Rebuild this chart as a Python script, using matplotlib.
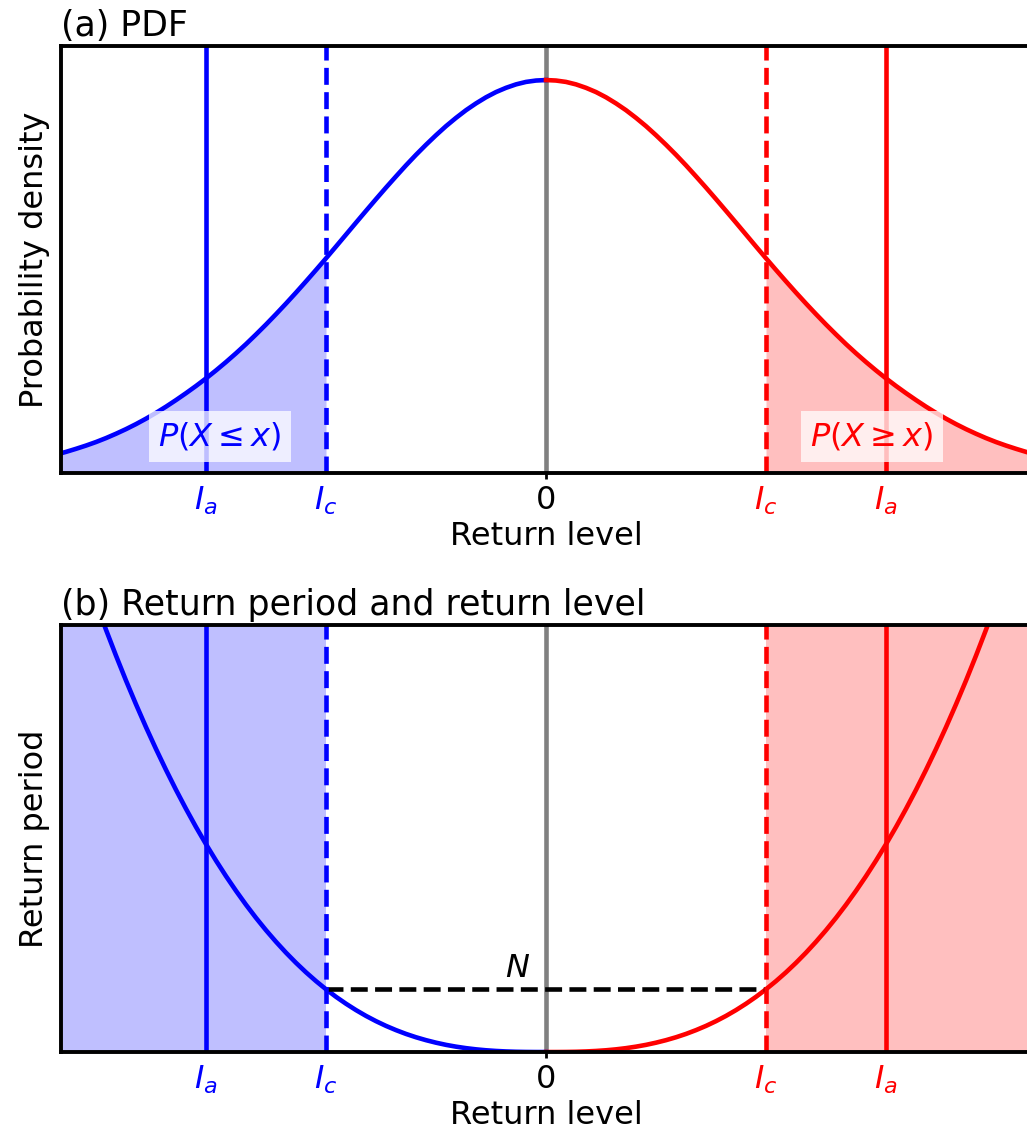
import numpy as np
import matplotlib
matplotlib.use("Agg")
import matplotlib.pyplot as plt

# half of the symmetric curves (x >= 0, step 0.05)
level = np.round(np.arange(0, 51) * 0.05, 2)
density = np.array([0.3989, 0.3984, 0.3970, 0.3945, 0.3910, 0.3867, 0.3814, 0.3752,
                    0.3683, 0.3605, 0.3521, 0.3429, 0.3332, 0.3230, 0.3123, 0.3011,
                    0.2897, 0.2780, 0.2661, 0.2541, 0.2420, 0.2299, 0.2179, 0.2061,
                    0.1945, 0.1831, 0.1720, 0.1612, 0.1507, 0.1406, 0.1308, 0.1215,
                    0.1126, 0.1041, 0.0960, 0.0883, 0.0810, 0.0740, 0.0673, 0.0610,
                    0.0551, 0.0496, 0.0445, 0.0398, 0.0354, 0.0314, 0.0278, 0.0245,
                    0.0214, 0.0186, 0.0160])
period = np.array([0.0, 0.0003, 0.002, 0.006, 0.0135, 0.025, 0.041, 0.063, 0.091,
                   0.126, 0.168, 0.219, 0.278, 0.346, 0.424, 0.513, 0.612, 0.723,
                   0.846, 0.982, 1.131, 1.293, 1.470, 1.661, 1.867, 2.089, 2.327,
                   2.582, 2.853, 3.142, 3.449, 3.775, 4.119, 4.483, 4.867, 5.270,
                   5.695, 6.140, 6.608, 7.097, 7.608, 8.143, 8.70, 9.283, 9.89,
                   10.52, 11.17, 11.86, 12.56, 13.29, 14.06])

l_a = 1.7   # actual level
l_c = 1.1   # counterfactual level
tick_pos = [-l_a, -l_c, 0, l_c, l_a]
tick_lab = [r'$I_a$', r'$I_c$', '0', r'$I_c$', r'$I_a$']
tick_col = ['blue', 'blue', 'black', 'red', 'red']

fs = 23
plt.rcParams['font.size'] = fs
plt.rcParams['axes.titlesize'] = 25
plt.rcParams['axes.linewidth'] = 2.8

fig = plt.figure(figsize=(10.27, 11.35), dpi=100)
ax1 = fig.add_axes([0.0594, 0.5833, 0.9445, 0.3762])
ax2 = fig.add_axes([0.0594, 0.0731, 0.9445, 0.3762])

xmin, xmax = -2.425, 2.425
lw = 3.3

# (a) PDF
ax1.plot(-level, density, color='blue', lw=lw)
ax1.plot(level, density, color='red', lw=lw)
tail = level >= l_c
ax1.fill_between(-level[tail], 0, density[tail], color='blue', alpha=0.25, lw=0)
ax1.fill_between(level[tail], 0, density[tail], color='red', alpha=0.25, lw=0)
ax1.set_ylim(0, 0.4335)
ax1.set_ylabel('Probability density', labelpad=8)
ax1.set_title('(a) PDF', loc='left', pad=7)
tr = ax1.get_xaxis_transform()
box = dict(facecolor='white', alpha=0.75, edgecolor='none', pad=7)
ax1.text(-1.63, 0.085, r'$P(X \leq x)$', color='blue', ha='center', va='center',
         transform=tr, bbox=box)
ax1.text(1.63, 0.085, r'$P(X \geq x)$', color='red', ha='center', va='center',
         transform=tr, bbox=box)

# (b) return period
ax2.plot(-level, period, color='blue', lw=lw)
ax2.plot(level, period, color='red', lw=lw)
ax2.axvspan(xmin, -l_c, color='blue', alpha=0.25, lw=0)
ax2.axvspan(l_c, xmax, color='red', alpha=0.25, lw=0)
n_val = period[level == l_c][0]
ax2.plot([-l_c, l_c], [n_val, n_val], color='black', ls='--', lw=lw)
ax2.text(-0.14, n_val + 0.12, r'$N$', ha='center', va='bottom')
ax2.set_ylim(0, 10)
ax2.set_ylabel('Return period', labelpad=8)
ax2.set_title('(b) Return period and return level', loc='left', pad=7)

for ax in (ax1, ax2):
    ax.axvline(0, color='gray', lw=lw, zorder=1)
    for s in (-1, 1):
        c = 'blue' if s < 0 else 'red'
        ax.axvline(s * l_a, color=c, lw=lw)
        ax.axvline(s * l_c, color=c, lw=lw, ls='--')
    ax.set_xlim(xmin, xmax)
    ax.set_yticks([])
    ax.set_xticks(tick_pos)
    ax.set_xticklabels(tick_lab)
    ax.tick_params(axis='x', length=4.5, width=2, pad=4)
    for t, lab, c in zip(ax.xaxis.get_major_ticks(), ax.get_xticklabels(), tick_col):
        lab.set_color(c)
        if c != 'black':
            t.tick1line.set_visible(False)
    ax.set_xlabel('Return level', labelpad=3)

plt.savefig('out.png', dpi=100)
